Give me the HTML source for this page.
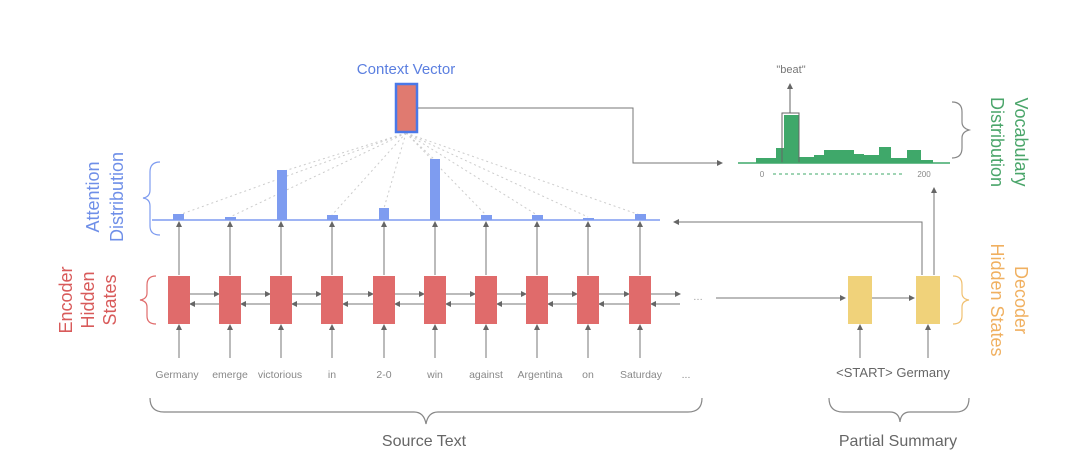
<!DOCTYPE html>
<html><head><meta charset="utf-8"><style>
html,body{margin:0;padding:0;background:#fff;}
svg{display:block;font-family:"Liberation Sans",sans-serif;}
</style></head><body>
<svg width="1080" height="473" viewBox="0 0 1080 473" xmlns="http://www.w3.org/2000/svg">
<defs>
<marker id="a" markerWidth="6" markerHeight="6" refX="5" refY="3" orient="auto" markerUnits="userSpaceOnUse"><path d="M0,0 L6,3 L0,6 z" fill="#666"/></marker>
</defs>
<rect width="1080" height="473" fill="#fff"/>
<g stroke="#ccc" stroke-width="1" stroke-dasharray="2,3" fill="none">
<line x1="406" y1="133" x2="179" y2="215"/>
<line x1="406" y1="133" x2="230" y2="217"/>
<line x1="406" y1="133" x2="281" y2="172"/>
<line x1="406" y1="133" x2="332" y2="215"/>
<line x1="406" y1="133" x2="384" y2="208"/>
<line x1="406" y1="133" x2="435" y2="160"/>
<line x1="406" y1="133" x2="486" y2="215"/>
<line x1="406" y1="133" x2="537" y2="215"/>
<line x1="406" y1="133" x2="588" y2="217"/>
<line x1="406" y1="133" x2="640" y2="215"/>
</g>
<text x="406" y="74" text-anchor="middle" font-size="15" fill="#5b7fe0">Context Vector</text>
<rect x="396" y="84" width="21" height="48" fill="#e07a70" stroke="#4a78e8" stroke-width="2.5"/>
<polyline points="418,108 633,108 633,163 722,163" fill="none" stroke="#777" stroke-width="1" marker-end="url(#a)"/>
<line x1="152" y1="220" x2="660" y2="220" stroke="#7e9cf0" stroke-width="1.5"/>
<g fill="#7e9cf0">
<rect x="173" y="214" width="11" height="6"/>
<rect x="225" y="217" width="11" height="3"/>
<rect x="277" y="170" width="10" height="50"/>
<rect x="327" y="215" width="11" height="5"/>
<rect x="379" y="208" width="10" height="12"/>
<rect x="430" y="159" width="10" height="61"/>
<rect x="481" y="215" width="11" height="5"/>
<rect x="532" y="215" width="11" height="5"/>
<rect x="583" y="218" width="11" height="2"/>
<rect x="635" y="214" width="11" height="6"/>
</g>
<g stroke="#777" stroke-width="1" fill="none">
<g marker-end="url(#a)">
<line x1="179" y1="275" x2="179" y2="222"/><line x1="230" y1="275" x2="230" y2="222"/>
<line x1="281" y1="275" x2="281" y2="222"/><line x1="332" y1="275" x2="332" y2="222"/>
<line x1="384" y1="275" x2="384" y2="222"/><line x1="435" y1="275" x2="435" y2="222"/>
<line x1="486" y1="275" x2="486" y2="222"/><line x1="537" y1="275" x2="537" y2="222"/>
<line x1="588" y1="275" x2="588" y2="222"/><line x1="640" y1="275" x2="640" y2="222"/>
<line x1="179" y1="358" x2="179" y2="325"/><line x1="230" y1="358" x2="230" y2="325"/>
<line x1="281" y1="358" x2="281" y2="325"/><line x1="332" y1="358" x2="332" y2="325"/>
<line x1="384" y1="358" x2="384" y2="325"/><line x1="435" y1="358" x2="435" y2="325"/>
<line x1="486" y1="358" x2="486" y2="325"/><line x1="537" y1="358" x2="537" y2="325"/>
<line x1="588" y1="358" x2="588" y2="325"/><line x1="640" y1="358" x2="640" y2="325"/>
<line x1="190" y1="294" x2="219" y2="294"/><line x1="241" y1="294" x2="270" y2="294"/>
<line x1="292" y1="294" x2="321" y2="294"/><line x1="343" y1="294" x2="373" y2="294"/>
<line x1="395" y1="294" x2="424" y2="294"/><line x1="446" y1="294" x2="475" y2="294"/>
<line x1="497" y1="294" x2="526" y2="294"/><line x1="548" y1="294" x2="577" y2="294"/>
<line x1="599" y1="294" x2="629" y2="294"/><line x1="651" y1="294" x2="680" y2="294"/>
<line x1="219" y1="304" x2="190" y2="304"/><line x1="270" y1="304" x2="241" y2="304"/>
<line x1="321" y1="304" x2="292" y2="304"/><line x1="373" y1="304" x2="343" y2="304"/>
<line x1="424" y1="304" x2="395" y2="304"/><line x1="475" y1="304" x2="446" y2="304"/>
<line x1="526" y1="304" x2="497" y2="304"/><line x1="577" y1="304" x2="548" y2="304"/>
<line x1="629" y1="304" x2="599" y2="304"/><line x1="680" y1="304" x2="651" y2="304"/>
<line x1="716" y1="298" x2="845" y2="298"/><line x1="872" y1="298" x2="914" y2="298"/>
<line x1="860" y1="358" x2="860" y2="325"/><line x1="928" y1="358" x2="928" y2="325"/>
<line x1="934" y1="275" x2="934" y2="188"/>
</g>
<polyline points="922,275 922,222 674,222" marker-end="url(#a)"/>
</g>
<g fill="#e06b6b">
<rect x="168" y="276" width="22" height="48"/><rect x="219" y="276" width="22" height="48"/>
<rect x="270" y="276" width="22" height="48"/><rect x="321" y="276" width="22" height="48"/>
<rect x="373" y="276" width="22" height="48"/><rect x="424" y="276" width="22" height="48"/>
<rect x="475" y="276" width="22" height="48"/><rect x="526" y="276" width="22" height="48"/>
<rect x="577" y="276" width="22" height="48"/><rect x="629" y="276" width="22" height="48"/>
</g>
<text x="693" y="300" font-size="10" fill="#999">…</text>
<g fill="#f0d27a"><rect x="848" y="276" width="24" height="48"/><rect x="916" y="276" width="24" height="48"/></g>
<g font-size="10.5" fill="#888" text-anchor="middle">
<text x="177" y="378">Germany</text><text x="230" y="378">emerge</text><text x="280" y="378">victorious</text>
<text x="332" y="378">in</text><text x="384" y="378">2-0</text><text x="435" y="378">win</text>
<text x="486" y="378">against</text><text x="540" y="378">Argentina</text><text x="588" y="378">on</text>
<text x="641" y="378">Saturday</text><text x="686" y="378">...</text>
</g>
<text x="893" y="377" font-size="13" fill="#666" text-anchor="middle">&lt;START&gt; Germany</text>
<g fill="none" stroke="#888" stroke-width="1.2">
<path d="M150,398 Q150,412 164,412 L414,412 Q424,412 426,424 Q428,412 438,412 L688,412 Q702,412 702,398"/>
<path d="M829,398 Q829,412 843,412 L890,412 Q899,412 900,422 Q901,412 910,412 L956,412 Q969,412 969,398"/>
</g>
<text x="424" y="446" font-size="16" fill="#666" text-anchor="middle">Source Text</text>
<text x="898" y="446" font-size="16" fill="#666" text-anchor="middle">Partial Summary</text>
<g fill="none" stroke-width="1.2">
<path d="M160,162 Q150,162 150,172 L150,190 Q150,197 143,198 Q150,199 150,206 L150,226 Q150,235 160,235" stroke="#7e9cf0"/>
<path d="M156,276 Q147,276 147,285 L147,293 Q147,299 140,300 Q147,301 147,307 L147,316 Q147,324 156,324" stroke="#e06b6b"/>
<path d="M953,276 Q962,276 962,285 L962,293 Q962,299 969,300 Q962,301 962,307 L962,316 Q962,324 953,324" stroke="#f0c070"/>
<path d="M952,102 Q962,102 962,112 L962,122 Q962,128 969,130 Q962,132 962,138 L962,148 Q962,158 952,158" stroke="#888"/>
</g>
<g text-anchor="middle">
<text transform="translate(99,197) rotate(-90)" fill="#6f8fe8" font-size="18"><tspan x="0" y="0">Attention</tspan><tspan x="0" y="24">Distribution</tspan></text>
<text transform="translate(72,300) rotate(-90)" fill="#d85a5a" font-size="18"><tspan x="0" y="0">Encoder</tspan><tspan x="0" y="22">Hidden</tspan><tspan x="0" y="44">States</tspan></text>
<text transform="translate(1005,142) rotate(90)" fill="#4aa56a" font-size="18"><tspan x="0" y="-10">Vocabulary</tspan><tspan x="0" y="14">Distribution</tspan></text>
<text transform="translate(1005,300) rotate(90)" fill="#f0b060" font-size="18"><tspan x="0" y="-10">Decoder</tspan><tspan x="0" y="14">Hidden States</tspan></text>
</g>
<g fill="#3fa86a">
<rect x="756" y="158" width="20" height="5"/>
<rect x="776" y="148" width="8" height="15"/>
<rect x="784" y="115" width="15" height="48"/>
<rect x="799" y="157" width="15" height="6"/>
<rect x="814" y="155" width="10" height="8"/>
<rect x="824" y="150" width="30" height="13"/>
<rect x="854" y="154" width="10" height="9"/>
<rect x="864" y="155" width="15" height="8"/>
<rect x="879" y="147" width="12" height="16"/>
<rect x="891" y="158" width="16" height="5"/>
<rect x="907" y="150" width="14" height="13"/>
<rect x="921" y="160" width="12" height="3"/>
</g>
<rect x="782" y="113" width="17" height="50" fill="none" stroke="#666" stroke-width="1"/>
<line x1="738" y1="163" x2="950" y2="163" stroke="#3fa86a" stroke-width="1.5"/>
<line x1="790" y1="113" x2="790" y2="84" stroke="#666" stroke-width="1" marker-end="url(#a)"/>
<text x="791" y="73" font-size="11" fill="#777" text-anchor="middle">"beat"</text>
<text x="762" y="177" font-size="8" fill="#888" text-anchor="middle">0</text>
<line x1="773" y1="174" x2="905" y2="174" stroke="#3fa86a" stroke-width="1" stroke-dasharray="3,3"/>
<text x="924" y="177" font-size="8" fill="#888" text-anchor="middle">200</text>
</svg>
</body></html>
